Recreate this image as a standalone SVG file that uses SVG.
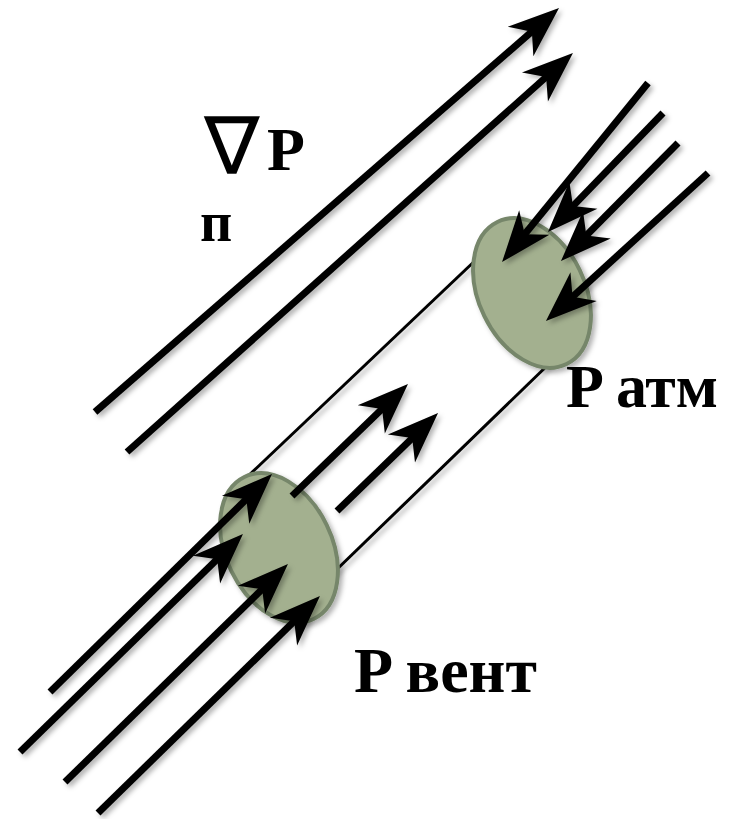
<svg xmlns="http://www.w3.org/2000/svg" width="730" height="819" viewBox="0 0 730 819">
  <style>
    .arrow { stroke: #000; stroke-width: 7; fill: none; stroke-linecap: butt; marker-end: url(#head); }
    .tube { stroke: #000; stroke-width: 3; fill: none; }
    .disk { fill: #a3b08f; stroke: #76866a; stroke-width: 4; }
    .lbl { font-family: "Liberation Serif", "Times New Roman", serif; font-weight: bold; fill: #000; }
  </style>
  <defs>
    <marker id="head" markerUnits="userSpaceOnUse" orient="auto" viewBox="-54 -22 56 44" markerWidth="56" markerHeight="44" refX="-30" refY="0" overflow="visible">
      <path d="M0,0 L-51,-19.5 L-36,0 L-51,19.5 Z" fill="#000"/>
    </marker>
    <filter id="shadow" x="-10%" y="-10%" width="130%" height="130%">
      <feDropShadow dx="3" dy="3" stdDeviation="2.5" flood-color="#000" flood-opacity="0.3"/>
    </filter>
  </defs>
  <rect width="730" height="819" fill="#fff"/>

  <g id="tube" filter="url(#shadow)">
    <line class="tube" x1="245" y1="479" x2="480" y2="256"/>
    <line class="tube" x1="330" y1="576" x2="552" y2="361"/>
  </g>

  <g id="disk-atm" filter="url(#shadow)">
    <ellipse class="disk" cx="532" cy="293" rx="79" ry="53" transform="rotate(64 532 293)"/>
  </g>
  <g id="disk-vent" filter="url(#shadow)">
    <ellipse class="disk" cx="279" cy="548" rx="79" ry="53" transform="rotate(64 279 548)"/>
  </g>

  <g id="connectors" filter="url(#shadow)">
    <line class="arrow" x1="95" y1="412" x2="536.4" y2="27.7"/>
    <line class="arrow" x1="127" y1="452" x2="550.6" y2="73.0"/>
    <line class="arrow" x1="50" y1="692" x2="250.6" y2="495.0"/>
    <line class="arrow" x1="20" y1="752" x2="221.5" y2="555.0"/>
    <line class="arrow" x1="65" y1="782" x2="266.5" y2="585.0"/>
    <line class="arrow" x1="98" y1="813" x2="298.5" y2="617.0"/>
    <line class="arrow" x1="292" y1="496" x2="386.4" y2="404.8"/>
    <line class="arrow" x1="337" y1="511" x2="416.5" y2="433.9"/>
    <line class="arrow" x1="648" y1="83" x2="521.0" y2="238.8"/>
    <line class="arrow" x1="663" y1="113" x2="568.8" y2="210.4"/>
    <line class="arrow" x1="678" y1="143" x2="582.1" y2="239.7"/>
    <line class="arrow" x1="708" y1="173" x2="568.1" y2="300.8"/>
  </g>

  <g id="label-grad">
    <text x="0" y="0" font-size="80" font-family="DejaVu Sans, sans-serif" fill="#000" transform="translate(204,174) scale(1.04,1)">∇</text>
    <text class="lbl" x="267" y="170" font-size="62">P</text>
    <text class="lbl" x="200" y="241" font-size="56">п</text>
  </g>
  <g id="label-atm">
    <text class="lbl" x="566" y="407" font-size="62">P атм</text>
  </g>
  <g id="label-vent">
    <text class="lbl" x="354" y="692" font-size="64">P вент</text>
  </g>
</svg>
